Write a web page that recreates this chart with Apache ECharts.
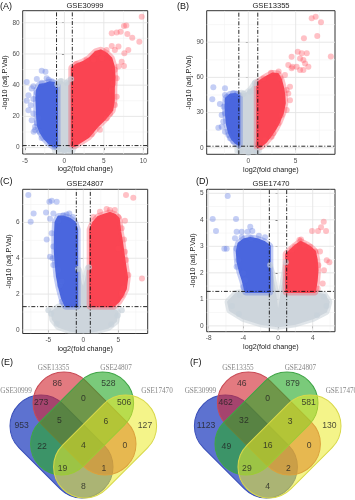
<!DOCTYPE html>
<html><head><meta charset="utf-8">
<script src="https://cdn.jsdelivr.net/npm/echarts@6/dist/echarts.min.js"></script>
<style>html,body{margin:0;padding:0;background:#fff}#c{width:355px;height:500px}</style>
</head><body><div id="c"></div>
<script>
// ================= DATA =================
const titles = ['GSE30999', 'GSE13355', 'GSE24807', 'GSE17470'];
const panelTags = ['(A)', '(B)', '(C)', '(D)', '(E)', '(F)'];
const xLabel = 'log2(fold change)';
const yLabel = '-log10 (adj.P.Val)';
const fcCut = [-1, 1];
const pCut = 1.3;

// tick values
const a_xTicks = [-5, 0, 5, 10], a_xMinor = [-2.5, 2.5, 7.5];
const a_yTicks = [0, 20, 40, 60, 80], a_yMinor = [10, 30, 50, 70];
const b_xTicks = [0, 5], b_xMinor = [-2.5, 2.5, 7.5];
const b_yTicks = [0, 30, 60, 90], b_yMinor = [15, 45, 75, 105];
const c_xTicks = [-5, 0, 5], c_xMinor = [-7.5, -2.5, 2.5, 7.5];
const c_yTicks = [0, 2, 4, 6], c_yMinor = [1, 3, 5, 7];
const d_xTicks = [-8, -4, 0, 4], d_xMinor = [-6, -2, 2, 6];
const d_yTicks = [0, 1, 2, 3, 4, 5], d_yMinor = [0.5, 1.5, 2.5, 3.5, 4.5];

// (A) GSE30999 : dense clouds (outline of overlapping points) and separate points
const a_gray = [[-1.1,-1.5],[-1.15,2],[-1.05,10],[-1,38],[-0.8,41],[-0.4,42],[0,40],[0.4,41.5],[0.9,43],[1.05,40],[1.05,5],[1.1,1],[0.9,-1.8],[0,-2.2],[-0.9,-1.8]];
const a_grayPts = [[-0.5,42.5],[0.3,41.5],[0.85,44],[-0.9,40.5],[0,-1.8],[-0.7,-1.2],[0.7,-1.4]];
const a_blueCore = [[-1,1],[-1,40],[-1.3,41],[-1.9,41.5],[-2.5,40.5],[-3.1,40],[-3.4,37],[-3.5,32],[-3.45,26],[-3.4,20],[-3.3,14],[-3.0,10],[-2.5,6],[-1.9,3],[-1.4,1.2]];
const a_bluePts = [[-2.88,49.3],[-2.4,48.6],[-2.25,44.4],[-3.5,43.9],[-4.78,42],[-3.94,39.3],[-4.15,37.8],[-2.88,41.5],[-4.56,33.6],[-3.94,31.1],[-4.78,30],[-4.27,27.2],[-4.56,24],[-3.94,21.8],[-4.15,17.6],[-3.72,13.4],[-3.72,11.3],[-3.17,10.2],[-3.5,15.7],[-3.3,18.9],[-3.5,35.2],[-3.9,10.2],[-2.9,6.2],[-1.8,2.8],[-1.2,1],[-1.6,42.5],[-2.0,43.5]];
const a_redCore = [[1,1.5],[1,51],[1.6,53],[2.4,54.5],[3.2,57],[4,61],[4.6,62],[5.3,60],[5.9,57],[6.2,52],[6.3,45],[6.2,38],[6.2,30],[6,24],[5,18],[4.1,13.5],[3,7],[2,3.8],[1.3,1.5]];
const a_redPts = [[9.8,83.8],[7.55,77.9],[7.85,78.2],[6.63,73.8],[6.0,73.2],[7.13,74.2],[8.6,70.4],[7.98,72.8],[9.5,67.8],[8.1,62.5],[7.6,60.4],[6.0,65.1],[6.85,64.7],[6.4,62.5],[7.26,55],[6.85,52],[6.4,49.8],[7.55,52.3],[6.63,44.4],[6.2,41.2],[6.0,36.9],[6.63,32.6],[6.4,27.3],[5.78,21.9],[5.35,18.8],[3.46,8.6],[4.5,11.5],[4.94,60.4],[5.35,62.5],[4.1,60.4],[3.67,56.2],[4.72,57.2],[1.5,53.5],[2.8,56],[1.1,2]];

// (B) GSE13355
const b_gray = [[-1.05,-3],[-1.05,3],[-1,44],[-0.7,46],[-0.3,45],[0,47],[0.4,50],[0.8,55],[1,56],[1.05,3],[1.0,-3],[0,-4]];
const b_grayPts = [[0.7,55],[-0.5,46],[0.2,48],[-0.9,-3],[0.9,-3.2],[0,-4.2]];
const b_blueCore = [[-1,3],[-1,44],[-1.4,45.5],[-1.9,45],[-2.3,42],[-2.35,35],[-2.3,28],[-2.2,20],[-2.0,13],[-1.7,8],[-1.3,4.5]];
const b_bluePts = [[-3.69,51.5],[-2.46,50.8],[-3.8,41.3],[-3.0,37.3],[-2.46,44.9],[-2.1,43.5],[-2.28,40.7],[-2.6,35],[-2.46,29.4],[-2.81,28],[-2.64,22.3],[-3.16,17.1],[-2.81,18],[-2.46,13.7],[-2.11,10.9],[-1.93,8.1],[-1.58,5.3],[-1.2,46],[-1.6,46.5]];
const b_redCore = [[1,1],[1,55],[1.5,58],[2.1,61],[2.6,63],[3.1,62.5],[3.4,58],[3.6,52],[3.75,45],[3.8,38],[3.6,30],[3.2,22],[2.8,16],[2.3,10],[1.8,5],[1.3,1.5]];
const b_redPts = [[1.05,3.5],[4.22,46.3],[4.4,40.6],[4.05,32.1],[3.5,27.9],[3.16,20.8],[2.64,12.3],[2.46,9.4],[1.76,6.5],[3.35,59.2],[3.87,62],[4.57,67.8],[4.22,70.5],[4.65,69.1],[5.1,69.1],[4.57,77.6],[5.22,81.9],[5.64,80.5],[6.17,80.5],[5.46,76.2],[5.81,74.8],[5.99,71.9],[6.34,69.1],[5.81,66.3],[5.46,66.3],[5.87,93.3],[7.28,95.3],[6.69,110.4],[7.11,111.8],[7.67,107],[8.71,77.9],[4.4,52],[4.05,49.2],[1.6,59],[2.4,64],[3.2,65]];

// (C) GSE24807
const c_gray = [[-0.95,1.3],[-0.95,3.0],[-0.7,3.3],[-0.4,2.6],[0,2.2],[0.4,2.7],[0.75,3.4],[1.05,3.0],[1.05,1.3],[2.5,1.3],[4,1.2],[4.8,1.0],[4.6,0.5],[3.5,0.15],[2,0.0],[0,-0.1],[-2,0.0],[-3.5,0.2],[-4.3,0.6],[-4.4,1.0],[-3.5,1.25],[-2.5,1.3]];
const c_grayPts = [[-4.6,0.9],[4.9,0.8],[-3.8,0.35],[4.0,0.3],[0.8,3.5],[-0.75,3.4],[5.5,1.1],[-5,1.1]];
const c_blueCore = [[-0.95,1.35],[-0.95,5.6],[-1.3,6.0],[-2.0,6.2],[-2.8,6.3],[-3.5,6.3],[-3.9,6.0],[-4.0,5.2],[-4.0,4.4],[-3.9,3.8],[-3.7,3.0],[-3.4,2.4],[-3.0,1.8],[-2.5,1.35]];
const c_bluePts = [[-7.86,7.53],[-7.1,6.5],[-7.52,6.04],[-4.85,7.16],[-4.52,7.21],[-3.8,7.16],[-5.33,6.56],[-4.28,6.5],[-4.76,6.2],[-3.57,6.1],[-2.86,6.4],[-2.38,6.45],[-5.23,5.05],[-4.76,4.08],[-4.38,4.0],[-4.28,3.62],[-3.57,3.34],[-3.33,2.5],[-4.52,5.4],[-4.28,4.65],[-3.1,2.7],[-3.09,1.57],[-1.5,6.3],[-2.0,6.5]];
const c_redCore = [[1.05,1.35],[1.05,5.6],[1.5,6.0],[2.2,6.3],[3.0,6.4],[3.8,6.5],[4.5,6.4],[5.0,6.2],[5.2,5.5],[5.5,4.8],[5.7,4.2],[6.0,3.4],[6.2,2.9],[6.0,2.3],[5.5,1.9],[5.0,1.6],[4.3,1.35]];
const c_redPts = [[6.1,7.53],[7.14,7.38],[3.8,6.7],[5.0,6.3],[5.95,6.1],[5.48,5.67],[5.81,5.05],[5.95,4.36],[6.1,3.9],[6.43,3.06],[8.38,2.87],[5.48,2.04],[5.0,4.55],[2.38,6.6],[3.33,6.75],[1.43,6.3],[5.71,2.32],[5.48,1.94],[4.29,1.48],[4.5,6.7]];

// (D) GSE17470
const d_gray = [[-1,1.3],[-1,2.2],[-0.8,2.0],[-0.4,1.3],[-0.1,0.5],[0.1,0.5],[0.5,1.3],[0.85,2.0],[1,2.3],[1,1.3],[2,1.3],[4,1.25],[5.3,1.15],[5.8,0.9],[5.5,0.55],[4,0.3],[2,0.1],[0,0.0],[-2,0.1],[-4,0.3],[-5.5,0.6],[-5.7,0.9],[-4.8,1.2],[-3,1.3]];
const d_grayPts = [[-4.4,1.16],[5.3,1.1],[-5.3,0.75],[5.6,0.75],[4.5,0.4],[-4.5,0.45],[-0.9,2.3],[0.9,2.4]];
const d_blueCore = [[-1,1.3],[-1,3.0],[-1.6,3.15],[-2.4,3.25],[-3.2,3.3],[-3.9,3.25],[-4.5,3.1],[-4.7,2.8],[-4.6,2.4],[-4.3,2.0],[-4.0,1.7],[-3.7,1.3]];
const d_bluePts = [[-5.8,4.9],[-7.53,4.03],[-7.15,3.58],[-6.19,2.91],[-5.92,2.91],[-4.84,4.03],[-4.77,3.55],[-4.19,3.55],[-3.5,3.55],[-2.96,3.58],[-4.19,3.34],[-3.12,3.3],[-4.84,2.92],[-4.96,3.3],[-4.57,2.48],[-4.77,2.23],[-4.0,1.98],[-3.8,1.72],[-4.0,1.47],[-3.2,3.74],[-1.5,3.34],[-2.2,3.4]];
const d_redCore = [[1,1.3],[1,2.7],[1.5,2.85],[2.0,3.0],[2.6,3.15],[3.2,3.05],[3.7,2.95],[4.2,2.8],[4.4,2.5],[4.5,2.1],[4.4,1.7],[4.2,1.3]];
const d_redPts = [[5.27,3.93],[4.96,3.72],[3.92,3.58],[4.61,3.58],[5.54,3.58],[2.46,3.24],[2.65,3.26],[3.04,3.05],[3.69,2.98],[4.27,2.8],[4.84,2.8],[5.62,2.47],[5.92,2.4],[5.3,2.1],[4.65,2.29],[5.15,1.6],[4.57,1.4],[1.58,2.86],[1.96,2.98]];

// Venn diagrams: sets and region counts
const vennSets = ['GSE30999', 'GSE13355', 'GSE24807', 'GSE17470'];
// region order: A, B, C, D, AB, BC, CD, ABC, BCD, AC, ABCD, BD, ACD, ABD, AD
const vennE_counts = [953, 86, 528, 127, 273, 0, 506, 5, 6, 22, 4, 0, 19, 1, 8];
const vennF_counts = [1123, 46, 879, 130, 462, 0, 581, 32, 3, 49, 16, 0, 29, 2, 4];

// ================= LAYOUT / STYLE =================
const SANS = '"Liberation Sans", Arial, sans-serif';
const SERIF = '"Liberation Serif", "DejaVu Serif", serif';
const layout = [
  {left:22.7, top:10.7, width:125, height:143.3, xMin:-5.29, xMax:10.56, yMin:-4.1, yMax:87.7, yGap:9, xGap:12},
  {left:206.7, top:10.7, width:128.3, height:143.6, xMin:-4.39, xMax:9.15, yMin:-5.6, yMax:116.9, yGap:12, xGap:12},
  {left:22.7, top:189.3, width:125, height:144.2, xMin:-8.66, xMax:9.2, yMin:-0.2, yMax:7.85, yGap:9, xGap:12},
  {left:206.7, top:189.3, width:128.3, height:142.4, xMin:-8.22, xMax:6.57, yMin:-0.22, yMax:5.15, yGap:7, xGap:12}
];
const panels = [
  {xT:a_xTicks, xM:a_xMinor, yT:a_yTicks, yM:a_yMinor, gray:a_gray, grayPts:a_grayPts, blue:a_blueCore, bluePts:a_bluePts, red:a_redCore, redPts:a_redPts},
  {xT:b_xTicks, xM:b_xMinor, yT:b_yTicks, yM:b_yMinor, gray:b_gray, grayPts:b_grayPts, blue:b_blueCore, bluePts:b_bluePts, red:b_redCore, redPts:b_redPts},
  {xT:c_xTicks, xM:c_xMinor, yT:c_yTicks, yM:c_yMinor, gray:c_gray, grayPts:c_grayPts, blue:c_blueCore, bluePts:c_bluePts, red:c_redCore, redPts:c_redPts},
  {xT:d_xTicks, xM:d_xMinor, yT:d_yTicks, yM:d_yMinor, gray:d_gray, grayPts:d_grayPts, blue:d_blueCore, bluePts:d_bluePts, red:d_redCore, redPts:d_redPts}
];
const titlePos = [[85,6],[271,6],[85,183.5],[271,183.5]];
const tagPos = [[0,7],[177,7],[0,182],[196,182],[1,363],[190,363]];
const COL = {
  gray:'#CDD5DC', grayHalo:'rgba(205,213,220,0.6)', grayPt:'rgba(200,210,218,0.85)',
  blue:'#4A66DE', blueHalo:'rgba(80,110,225,0.35)', bluePt:'rgba(80,110,225,0.42)',
  red:'#FA4452', redHalo:'rgba(255,70,85,0.35)', redPt:'rgba(255,70,85,0.42)'
};
// Venn layout in local pixel units (grid 175 x 140)
const vennGrids = [{left:0, top:360}, {left:184.4, top:360}];
const vennShapes = [
  {c:[61.5,86.5], rot:-Math.PI/4, fill:'rgba(30,60,190,0.72)', stroke:'#3a4fb8'},
  {c:[84.5,63.5], rot:-Math.PI/4, fill:'rgba(210,40,50,0.62)', stroke:'#c84a55'},
  {c:[82.1,63.5], rot: Math.PI/4, fill:'rgba(40,170,40,0.62)', stroke:'#3fa546'},
  {c:[105.1,86.5], rot: Math.PI/4, fill:'rgba(235,235,40,0.55)', stroke:'#d8d84a'}
];
const vennLen = 120, vennThick = 62;
const regionAnchors = [[21.7,66],[57.3,23.8],[108.3,23.5],[145,66],[41.2,43],[83.3,38.5],[124.2,42.2],[59.5,61],[105.8,61.2],[42,86.7],[83.3,86],[124.8,85.7],[62.5,108.3],[104,108.3],[83.3,127]];
const setAnchors = [[16,30.7],[53.5,7.7],[116,7.7],[157,30.7]];

// ================= BUILD =================
const grid = [], xAxis = [], yAxis = [], series = [], graphic = [];

layout.forEach((L, i) => {
  const P = panels[i];
  grid.push({left:L.left, top:L.top, width:L.width, height:L.height, show:true,
    borderColor:'#333', borderWidth:1, backgroundColor:'#fff', containLabel:false, outerBoundsMode:'none'});
  xAxis.push({gridIndex:i, type:'value', min:L.xMin, max:L.xMax,
    axisLine:{show:false}, splitLine:{show:false},
    axisTick:{show:true, length:2.5, customValues:P.xT, lineStyle:{color:'#333', width:0.8}},
    axisLabel:{customValues:P.xT, fontSize:6.5, color:'#4d4d4d', margin:3.5, fontFamily:SANS},
    name:xLabel, nameLocation:'middle', nameGap:L.xGap,
    nameTextStyle:{fontSize:7.2, color:'#1a1a1a', fontFamily:SANS}});
  yAxis.push({gridIndex:i, type:'value', min:L.yMin, max:L.yMax,
    axisLine:{show:false}, splitLine:{show:false},
    axisTick:{show:true, length:2.5, customValues:P.yT, lineStyle:{color:'#333', width:0.8}},
    axisLabel:{customValues:P.yT, fontSize:6.5, color:'#4d4d4d', margin:3, fontFamily:SANS},
    name:yLabel, nameLocation:'middle', nameGap:L.yGap,
    nameTextStyle:{fontSize:7.2, color:'#1a1a1a', fontFamily:SANS}});

  // grid lines
  series.push({type:'custom', xAxisIndex:i, yAxisIndex:i, silent:true, clip:true, z:1, data:[[0,0]],
    renderItem:(p, api) => {
      const ch = [];
      const ln = (a, b, c, w) => ch.push({type:'line', shape:{x1:a[0], y1:a[1], x2:b[0], y2:b[1]}, style:{stroke:c, lineWidth:w}});
      P.xM.forEach(v => ln(api.coord([v, L.yMin]), api.coord([v, L.yMax]), '#f2f2f2', 0.6));
      P.yM.forEach(v => ln(api.coord([L.xMin, v]), api.coord([L.xMax, v]), '#f2f2f2', 0.6));
      P.xT.forEach(v => ln(api.coord([v, L.yMin]), api.coord([v, L.yMax]), '#e4e4e4', 0.9));
      P.yT.forEach(v => ln(api.coord([L.xMin, v]), api.coord([L.xMax, v]), '#e4e4e4', 0.9));
      return {type:'group', children:ch};
    }});
  const poly = (pts, color, halo) => ({type:'custom', xAxisIndex:i, yAxisIndex:i, silent:true, clip:true, z:2, data:pts,
    renderItem:(p, api) => {
      if (p.dataIndex !== 0) return null;
      const pp = pts.map(q => api.coord(q));
      return {type:'group', children:[
        {type:'polygon', shape:{points:pp}, style:{fill:'none', stroke:halo, lineWidth:8, lineJoin:'round'}},
        {type:'polygon', shape:{points:pp}, style:{fill:color, stroke:color, lineWidth:3, lineJoin:'round'}}
      ]};
    }});
  const pts = (d, color) => ({type:'scatter', xAxisIndex:i, yAxisIndex:i, silent:true, clip:true, z:2,
    data:d, symbolSize:6, itemStyle:{color:color}});
  series.push(poly(P.gray, COL.gray, COL.grayHalo), pts(P.grayPts, COL.grayPt));
  series.push(poly(P.blue, COL.blue, COL.blueHalo), pts(P.bluePts, COL.bluePt));
  series.push(poly(P.red, COL.red, COL.redHalo), pts(P.redPts, COL.redPt));
  // thresholds
  series.push({type:'custom', xAxisIndex:i, yAxisIndex:i, silent:true, clip:true, z:5, data:[[0,0]],
    renderItem:(p, api) => {
      const st = {stroke:'#111', lineWidth:0.9, lineDash:[4, 1.8, 1, 1.8]};
      const ch = fcCut.map(v => {
        const a = api.coord([v, L.yMin]), b = api.coord([v, L.yMax]);
        return {type:'line', shape:{x1:a[0], y1:a[1], x2:b[0], y2:b[1]}, style:st};
      });
      const a = api.coord([L.xMin, pCut]), b = api.coord([L.xMax, pCut]);
      ch.push({type:'line', shape:{x1:a[0], y1:a[1], x2:b[0], y2:b[1]}, style:st});
      return {type:'group', children:ch};
    }});
  graphic.push({type:'text', x:titlePos[i][0], y:titlePos[i][1],
    style:{text:titles[i], fontSize:7.6, fill:'#1a1a1a', align:'center', verticalAlign:'middle', fontFamily:SANS}});
});

// Venn grids
[vennE_counts, vennF_counts].forEach((counts, k) => {
  const gi = 4 + k;
  grid.push({left:vennGrids[k].left, top:vennGrids[k].top, width:175, height:140, show:false, containLabel:false, outerBoundsMode:'none'});
  xAxis.push({gridIndex:gi, type:'value', min:0, max:175, show:false});
  yAxis.push({gridIndex:gi, type:'value', min:0, max:140, inverse:true, show:false});
  series.push({type:'custom', xAxisIndex:gi, yAxisIndex:gi, silent:true, clip:false, z:2,
    data:vennShapes.map(s => s.c),
    renderItem:(p, api) => {
      const s = vennShapes[p.dataIndex];
      const c = api.coord(s.c);
      const sz = api.size([vennLen, vennThick]);
      const L = sz[0], T = sz[1];
      return {type:'rect', x:c[0], y:c[1], rotation:s.rot,
        shape:{x:-L/2, y:-T/2, width:L, height:T, r:T/2},
        style:{fill:s.fill, stroke:s.stroke, lineWidth:1}};
    }});
  series.push({type:'scatter', xAxisIndex:gi, yAxisIndex:gi, silent:true, z:4, symbolSize:1,
    itemStyle:{color:'rgba(0,0,0,0)'},
    data:regionAnchors.map((a, j) => ({value:a, name:String(counts[j])})),
    label:{show:true, position:'inside', formatter:'{b}', fontSize:8.6, color:'#222', fontFamily:SANS}});
  series.push({type:'scatter', xAxisIndex:gi, yAxisIndex:gi, silent:true, z:4, symbolSize:1,
    itemStyle:{color:'rgba(0,0,0,0)'},
    data:setAnchors.map((a, j) => ({value:a, name:vennSets[j]})),
    label:{show:true, position:'inside', formatter:'{b}', fontSize:7.2, color:'#666', fontFamily:SERIF}});
});

panelTags.forEach((t, i) => {
  graphic.push({type:'text', x:tagPos[i][0], y:tagPos[i][1],
    style:{text:t, fontSize:9, fill:'#111', align:'left', verticalAlign:'middle', fontFamily:SANS}});
});

const chart = echarts.init(document.getElementById('c'), null, {renderer:'canvas'});
chart.setOption({animation:false, backgroundColor:'#fff', grid, xAxis, yAxis, series, graphic});
</script></body></html>
